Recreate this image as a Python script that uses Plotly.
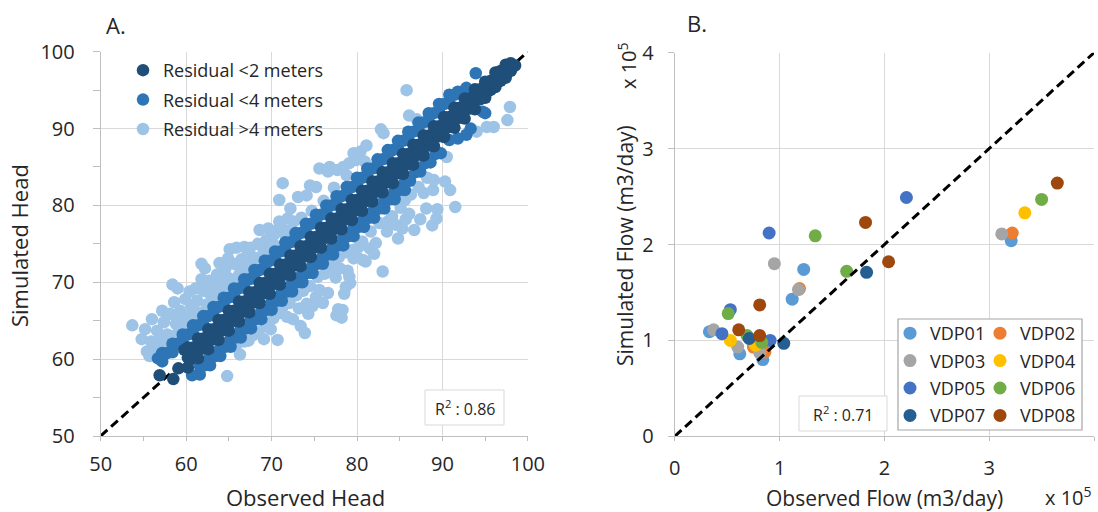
import plotly.graph_objects as go

W, H = 1098, 512
FONT = "Open Sans"
TXT = "#262626"
GRID = "#d9d9d9"
AXIS = "#bfbfbf"

# ---------------- Panel A: observed vs simulated head (m) ----------------
head_range = [50, 100]
head_ticks = [50, 60, 70, 80, 90, 100]
head_r2 = 0.86
head_classes = ["Residual <2 meters", "Residual <4 meters", "Residual >4 meters"]
head_colors = ["#1f4e79", "#2e75b6", "#9dc3e6"]

# (observed, simulated) pairs, grouped by absolute residual
resid_lt2 = [
    (56.9, 57.9), (58.5, 57.4), (59.1, 58.8), (59.8, 61.2), (60.4, 59.9),
    (60.2, 58.9), (60.2, 60.2), (60.2, 61.5), (60.8, 60.2), (60.8, 61.5),
    (61.4, 60.1), (61.4, 61.4), (61.4, 62.7), (62.0, 61.4), (62.0, 62.7),
    (62.6, 61.3), (62.6, 62.6), (62.6, 63.9), (63.2, 62.6), (63.2, 63.9),
    (63.8, 62.5), (63.8, 63.8), (63.8, 65.1), (64.4, 63.8), (64.4, 65.1),
    (65.0, 63.7), (65.0, 65.0), (65.0, 66.3), (65.6, 65.0), (65.6, 66.3),
    (66.2, 64.9), (66.2, 66.2), (66.2, 67.5), (66.8, 66.2), (66.8, 67.5),
    (67.4, 66.1), (67.4, 67.4), (67.4, 68.7), (68.0, 67.4), (68.0, 68.7),
    (68.6, 67.3), (68.6, 68.6), (68.6, 69.9), (69.2, 68.6), (69.2, 69.9),
    (69.8, 68.5), (69.8, 69.8), (69.8, 71.1), (70.4, 69.8), (70.4, 71.1),
    (71.0, 69.7), (71.0, 71.0), (71.0, 72.3), (71.6, 71.0), (71.6, 72.3),
    (72.2, 70.9), (72.2, 72.2), (72.2, 73.5), (72.8, 72.2), (72.8, 73.5),
    (73.4, 72.1), (73.4, 73.4), (73.4, 74.7), (74.0, 73.4), (74.0, 74.7),
    (74.6, 73.3), (74.6, 74.6), (74.6, 75.9), (75.2, 74.6), (75.2, 75.9),
    (75.8, 74.5), (75.8, 75.8), (75.8, 77.1), (76.4, 75.8), (76.4, 77.1),
    (77.0, 75.7), (77.0, 77.0), (77.0, 78.3), (77.6, 77.0), (77.6, 78.3),
    (78.2, 76.9), (78.2, 78.2), (78.2, 79.5), (78.8, 78.2), (78.8, 79.5),
    (79.4, 78.1), (79.4, 79.4), (79.4, 80.7), (80.0, 79.4), (80.0, 80.7),
    (80.6, 79.3), (80.6, 80.6), (80.6, 81.9), (81.2, 80.6), (81.2, 81.9),
    (81.8, 80.5), (81.8, 81.8), (81.8, 83.1), (82.4, 81.8), (82.4, 83.1),
    (83.0, 81.7), (83.0, 83.0), (83.0, 84.3), (83.6, 83.0), (83.6, 84.3),
    (84.2, 82.9), (84.2, 84.2), (84.2, 85.5), (84.8, 84.2), (84.8, 85.5),
    (85.4, 84.1), (85.4, 85.4), (85.4, 86.7), (86.0, 85.4), (86.0, 86.7),
    (86.6, 85.3), (86.6, 86.6), (86.6, 87.9), (87.2, 86.6), (87.2, 87.9),
    (87.8, 86.5), (87.8, 87.8), (87.8, 89.1), (88.4, 87.8), (88.4, 89.1),
    (89.0, 87.7), (89.0, 89.0), (89.0, 90.3), (89.6, 89.0), (89.6, 90.3),
    (90.2, 88.9), (90.2, 90.2), (90.2, 91.5), (90.8, 90.2), (90.8, 91.5),
    (91.4, 90.1), (91.4, 91.4), (91.4, 92.7), (92.0, 91.4), (92.0, 92.7),
    (92.6, 91.3), (92.6, 92.6), (92.6, 93.9), (93.2, 92.6), (93.2, 93.9),
    (93.8, 92.5), (93.8, 93.8), (93.8, 95.1), (94.4, 93.8), (94.4, 95.1),
    (95.0, 94.0), (95.0, 95.0), (95.0, 96.1), (95.6, 95.0), (95.6, 96.2),
    (96.2, 95.4), (96.2, 96.2), (96.2, 97.3), (96.8, 96.2), (96.8, 97.5),
    (97.4, 96.6), (97.4, 97.4), (97.4, 98.3), (98.0, 97.5), (98.0, 98.5),
    (98.5, 98.2),
]

resid_lt4 = [
    # simulated above observed
    (56.7, 60.1), (57.2, 59.7), (57.2, 60.8), (57.8, 60.8), (58.4, 60.9),
    (58.4, 62.0), (59.0, 62.0), (59.6, 62.1), (59.6, 63.2), (60.2, 63.2),
    (60.8, 63.3), (60.8, 64.4), (61.4, 64.4), (62.0, 64.5), (62.0, 65.6),
    (62.6, 65.6), (63.2, 65.7), (63.2, 66.8), (63.8, 66.8), (64.4, 66.9),
    (64.4, 68.0), (65.0, 68.0), (65.6, 68.1), (65.6, 69.2), (66.2, 69.2),
    (66.8, 69.3), (66.8, 70.4), (67.4, 70.4), (68.0, 70.5), (68.0, 71.6),
    (68.6, 71.6), (69.2, 71.7), (69.2, 72.8), (69.8, 72.8), (70.4, 72.9),
    (70.4, 74.0), (71.0, 74.0), (71.6, 74.1), (71.6, 75.2), (72.2, 75.2),
    (72.8, 75.3), (72.8, 76.4), (73.4, 76.4), (74.0, 76.5), (74.0, 77.6),
    (74.6, 77.6), (75.2, 77.7), (75.2, 78.8), (75.8, 78.8), (76.4, 78.9),
    (76.4, 80.0), (77.0, 80.0), (77.6, 80.1), (77.6, 81.2), (78.2, 81.2),
    (78.8, 81.3), (78.8, 82.4), (79.4, 82.4), (80.0, 82.5), (80.0, 83.6),
    (80.6, 83.6), (81.2, 83.7), (81.2, 84.8), (81.8, 84.8), (82.4, 84.9),
    (82.4, 86.0), (83.0, 86.0), (83.6, 86.1), (83.6, 87.2), (84.2, 87.2),
    (84.8, 87.3), (84.8, 88.4), (85.4, 88.4), (86.0, 88.5), (86.0, 89.6),
    (86.6, 89.6), (87.2, 89.7), (87.2, 90.8), (87.8, 90.8), (88.4, 90.9),
    (88.4, 92.0), (89.0, 92.0), (89.6, 92.1), (89.6, 93.2), (90.2, 93.2),
    (90.8, 93.3), (90.8, 94.4), (91.4, 94.4), (91.8, 94.8), (92.8, 95.3),
    (93.9, 97.2),
    # simulated below observed
    (60.7, 57.9), (61.6, 59.1), (61.6, 58.0), (62.2, 59.2), (62.8, 60.3),
    (62.8, 59.2), (63.4, 60.4), (64.0, 61.5), (64.0, 60.4), (64.6, 61.6),
    (65.2, 62.7), (65.2, 61.6), (65.8, 62.8), (66.4, 63.9), (66.4, 62.8),
    (67.0, 64.0), (67.6, 65.1), (67.6, 64.0), (68.2, 65.2), (68.8, 66.3),
    (68.8, 65.2), (69.4, 66.4), (70.0, 67.5), (70.0, 66.4), (70.6, 67.6),
    (71.2, 68.7), (71.2, 67.6), (71.8, 68.8), (72.4, 69.9), (72.4, 68.8),
    (73.0, 70.0), (73.6, 71.1), (73.6, 70.0), (74.2, 71.2), (74.8, 72.3),
    (74.8, 71.2), (75.4, 72.4), (76.0, 73.5), (76.0, 72.4), (76.6, 73.6),
    (77.2, 74.7), (77.2, 73.6), (77.8, 74.8), (78.4, 75.9), (78.4, 74.8),
    (79.0, 76.0), (79.6, 77.1), (79.6, 76.0), (80.2, 77.2), (80.8, 78.3),
    (80.8, 77.2), (81.4, 78.4), (82.0, 79.5), (82.0, 78.4), (82.6, 79.6),
    (83.2, 80.7), (83.2, 79.6), (83.8, 80.8), (84.4, 81.9), (84.4, 80.8),
    (85.0, 82.0), (85.6, 83.1), (85.6, 82.0), (86.2, 83.2), (86.8, 84.3),
    (87.4, 84.4), (88.0, 85.5), (88.6, 85.6), (89.2, 86.7), (89.8, 86.8),
    (90.8, 88.5), (91.8, 88.7), (92.8, 89.2), (93.3, 90.0), (94.7, 92.2),
    (95.0, 92.0),
]

resid_gt4 = [
    # simulated above observed
    (53.7, 64.4), (54.8, 62.6), (55.4, 61.0), (55.2, 63.9), (55.9, 62.3),
    (55.7, 60.4), (56.3, 60.9), (56.0, 65.2), (56.6, 63.7), (56.9, 61.6),
    (57.0, 62.8), (57.2, 66.3), (57.4, 64.8), (57.6, 61.9), (57.8, 63.2),
    (58.1, 65.9), (58.2, 62.5), (58.4, 69.7), (58.6, 67.4), (58.8, 64.6),
    (58.9, 63.2), (59.0, 69.2), (59.2, 65.1), (59.3, 66.3), (59.6, 63.9),
    (59.9, 67.8), (60.0, 64.3), (60.1, 65.5), (60.4, 68.8), (60.6, 66.9),
    (60.9, 66.4), (61.0, 65.2), (61.1, 69.2), (61.3, 67.6), (61.6, 66.0),
    (61.8, 72.4), (61.8, 70.4), (62.0, 68.9), (62.2, 71.8), (62.4, 67.1),
    (62.6, 68.7), (62.7, 70.2), (63.0, 68.2), (63.2, 67.6), (63.3, 69.6),
    (63.6, 71.0), (63.8, 70.0), (63.9, 72.5), (64.0, 68.6), (64.2, 68.9),
    (64.4, 70.3), (64.6, 71.8), (64.9, 73.1), (64.9, 70.6), (65.1, 74.3),
    (65.3, 69.8), (65.6, 72.4), (65.6, 70.2), (65.9, 74.5), (66.0, 72.3),
    (66.2, 71.0), (66.5, 73.0), (66.7, 71.3), (66.8, 74.6), (67.1, 73.4),
    (67.2, 72.0), (67.5, 74.5), (67.8, 72.6), (68.0, 73.2), (68.4, 75.0),
    (68.6, 76.8), (68.9, 74.6), (69.0, 73.6), (69.4, 75.5), (69.6, 77.0),
    (69.9, 74.5), (70.2, 75.0), (70.3, 76.2), (70.7, 76.8), (70.9, 77.9),
    (70.9, 80.7), (71.2, 77.0), (71.3, 82.9), (71.6, 76.2), (71.9, 78.3),
    (72.0, 76.7), (72.2, 79.6), (72.6, 77.9), (73.1, 81.1), (73.5, 78.4),
    (74.1, 81.3), (74.5, 82.6), (74.7, 79.3), (75.2, 82.4), (75.6, 84.8),
    (76.1, 80.6), (76.6, 84.4), (76.8, 85.0), (77.3, 82.3), (77.7, 84.6),
    (78.4, 85.0), (78.8, 83.9), (79.1, 85.5), (79.6, 86.8), (79.9, 85.9),
    (80.4, 87.0), (80.9, 85.7), (81.1, 87.8), (82.8, 89.9), (83.1, 89.4),
    (85.8, 95.0), (86.1, 91.7), (87.0, 91.2),
    # simulated below observed
    (64.8, 57.8), (65.8, 61.6), (66.3, 60.6), (66.8, 62.3), (67.3, 62.4),
    (67.8, 63.1), (68.5, 63.6), (69.1, 62.6), (69.3, 64.4), (69.9, 63.9),
    (70.2, 65.3), (70.6, 66.3), (70.7, 62.5), (71.0, 66.0), (71.3, 66.8),
    (71.8, 65.5), (72.1, 67.3), (72.5, 65.2), (72.9, 68.3), (73.2, 66.6),
    (73.4, 64.3), (73.7, 68.9), (73.9, 63.4), (74.1, 67.2), (74.3, 65.9),
    (74.5, 69.5), (74.8, 66.9), (75.2, 68.1), (75.4, 70.7), (75.6, 69.0),
    (76.0, 67.3), (76.2, 71.1), (76.6, 68.6), (76.9, 71.7), (77.1, 72.6),
    (77.5, 70.6), (77.6, 65.7), (77.8, 66.5), (77.9, 73.3), (78.0, 71.8),
    (78.2, 65.4), (78.3, 66.4), (78.5, 68.5), (78.7, 69.4), (78.7, 73.9),
    (78.9, 71.5), (79.1, 70.7), (79.2, 69.9), (79.5, 74.2), (79.6, 73.1),
    (80.0, 73.3), (80.2, 74.6), (80.6, 75.3), (80.7, 72.9), (81.0, 72.7),
    (81.5, 74.4), (81.6, 76.6), (82.0, 73.7), (82.2, 75.1), (82.6, 77.7),
    (83.0, 71.4), (83.5, 76.6), (83.6, 77.9), (84.1, 78.6), (84.5, 77.5),
    (84.8, 75.7), (85.1, 79.7), (85.3, 77.0), (85.6, 80.7), (85.7, 78.2),
    (86.1, 78.9), (86.3, 81.4), (86.7, 76.8), (87.2, 82.4), (87.4, 78.2),
    (87.8, 81.6), (88.1, 79.6), (88.2, 83.6), (88.8, 77.4), (88.9, 82.0),
    (89.0, 83.3), (89.3, 78.3), (89.4, 79.5), (90.3, 83.1), (90.5, 86.3),
    (90.9, 82.0), (91.5, 79.8), (94.0, 89.6), (95.2, 90.2), (96.0, 90.2),
    (97.6, 91.1), (97.9, 92.8),
]

# ---------------- Panel B: observed vs simulated flow (x 10^5 m3/day) ----------------
flow_range = [0, 4]
flow_ticks = [0, 1, 2, 3, 4]
flow_r2 = 0.71
wells = ["VDP01", "VDP02", "VDP03", "VDP04", "VDP05", "VDP06", "VDP07", "VDP08"]
well_colors = ["#5b9bd5", "#ed7d31", "#a5a5a5", "#ffc000",
               "#4472c4", "#70ad47", "#255e91", "#9e480e"]
vdp01 = [(0.33, 1.09), (0.62, 0.86), (0.84, 0.80), (1.12, 1.43), (1.23, 1.74), (3.21, 2.04)]
vdp02 = [(0.75, 0.93), (0.86, 0.88), (1.19, 1.54), (3.22, 2.12)]
vdp03 = [(0.37, 1.11), (0.60, 0.93), (0.81, 0.87), (0.95, 1.80), (1.18, 1.53), (3.12, 2.11)]
vdp04 = [(0.53, 1.00), (0.77, 0.95), (3.34, 2.33)]
vdp05 = [(0.45, 1.07), (0.53, 1.32), (0.91, 1.00), (0.90, 2.12), (2.21, 2.49)]
vdp06 = [(0.51, 1.28), (0.69, 1.05), (0.83, 0.98), (1.34, 2.09), (1.64, 1.72), (3.50, 2.47)]
vdp07 = [(0.71, 1.02), (1.04, 0.97), (1.83, 1.71)]
vdp08 = [(0.61, 1.11), (0.81, 1.05), (0.81, 1.37), (1.82, 2.23), (2.04, 1.82), (3.65, 2.64)]
well_data = [vdp01, vdp02, vdp03, vdp04, vdp05, vdp06, vdp07, vdp08]


def px(x):
    """pixel column -> paper x"""
    return x / W


def py(y):
    """pixel row (from top) -> paper y"""
    return 1 - y / H


fig = go.Figure()

# 1:1 reference line for heads (under the points)
fig.add_trace(go.Scatter(
    x=head_range, y=head_range, mode="lines", xaxis="x", yaxis="y",
    line=dict(color="black", width=3, dash="9px,5px"), showlegend=False,
    hoverinfo="skip"))

# head points: widest residuals first so the tight band sits on top
for rank, pts, name, color in sorted(
        zip([1, 2, 3], [resid_lt2, resid_lt4, resid_gt4], head_classes, head_colors),
        key=lambda t: -t[0]):
    fig.add_trace(go.Scatter(
        x=[p[0] for p in pts], y=[p[1] for p in pts], mode="markers",
        xaxis="x", yaxis="y", name=name, legend="legend3", legendrank=rank,
        legendgroup=name,
        marker=dict(size=12.5, color=color, line=dict(width=0))))

# flow points
for i, (name, color, pts) in enumerate(zip(wells, well_colors, well_data)):
    fig.add_trace(go.Scatter(
        x=[p[0] for p in pts], y=[p[1] for p in pts], mode="markers",
        xaxis="x2", yaxis="y2", name=name, legendgroup=name,
        legend="legend" if i % 2 == 0 else "legend2",
        marker=dict(size=13, color=color, line=dict(width=0))))

# 1:1 reference line for flows
fig.add_trace(go.Scatter(
    x=flow_range, y=flow_range, mode="lines", xaxis="x2", yaxis="y2",
    line=dict(color="black", width=3, dash="9px,5px"), showlegend=False,
    hoverinfo="skip"))

tickfont = dict(family=FONT, size=20, color=TXT)
common = dict(showgrid=True, gridcolor=GRID, gridwidth=1, showline=True,
              linecolor=AXIS, linewidth=1, zeroline=False, ticks="outside",
              tickcolor=AXIS, tickfont=tickfont, automargin=False, fixedrange=True)

legend_style = dict(xanchor="left", yanchor="top", bgcolor="rgba(0,0,0,0)",
                    borderwidth=0, traceorder="grouped",
                    font=dict(family=FONT, size=18, color=TXT),
                    itemclick=False, itemdoubleclick=False)

layout = dict(
    width=W, height=H, template="none",
    margin=dict(l=0, r=0, t=0, b=0, pad=0),
    paper_bgcolor="white", plot_bgcolor="white",
    font=dict(family=FONT, color=TXT),
    xaxis=dict(domain=[px(100.7), px(527.9)], range=head_range, tickvals=head_ticks,
               anchor="y", ticklen=4, ticklabelstandoff=6,
               minor=dict(dtick=5, tick0=50, ticks="outside", ticklen=4,
                          tickcolor=AXIS, showgrid=False), **common),
    yaxis=dict(domain=[py(436), py(51.7)], range=head_range, tickvals=head_ticks,
               anchor="x", ticklen=7, ticklabelstandoff=14,
               minor=dict(dtick=5, tick0=50, ticks="outside", ticklen=7,
                          tickcolor=AXIS, showgrid=False), **common),
    xaxis2=dict(domain=[px(674.8), px(1094)], range=flow_range, tickvals=flow_ticks,
                anchor="y2", ticklen=4, ticklabelstandoff=10, **common),
    yaxis2=dict(domain=[py(436.3), py(52.7)], range=flow_range, tickvals=flow_ticks,
                anchor="x2", ticklen=6, ticklabelstandoff=10, **common),
    legend=dict(x=px(890), y=py(315), tracegroupgap=1, **legend_style),
    legend2=dict(x=px(980), y=py(315), tracegroupgap=1, **legend_style),
    legend3=dict(x=px(123), y=py(52), tracegroupgap=3, **legend_style),
    showlegend=True,
)
fig.update_layout(**layout)

# boxes: R² labels and the flow legend frame (white fill hides gridlines)
box_style = dict(type="rect", xref="paper", yref="paper", layer="above",
                 fillcolor="white")
fig.add_shape(x0=px(425), x1=px(504), y0=py(425), y1=py(390),
              line=dict(color=GRID, width=1), **box_style)
fig.add_shape(x0=px(799), x1=px(887), y0=py(431), y1=py(396),
              line=dict(color=GRID, width=1), **box_style)
fig.add_shape(x0=px(898), x1=px(1082), y0=py(430), y1=py(319),
              line=dict(color="#a6a6a6", width=1.2), **box_style)


def label(text, x, y, size, angle=0, anchor="center"):
    fig.add_annotation(text=text, x=px(x), y=py(y), xref="paper", yref="paper",
                       showarrow=False, textangle=angle, xanchor=anchor,
                       yanchor="middle", font=dict(family=FONT, size=size, color=TXT))


label(f"R<sup>2</sup> : {head_r2:.2f}", 464.5, 408, 16)
label(f"R<sup>2</sup> : {flow_r2:.2f}", 843, 414, 16)
label("A.", 116, 25, 22)
label("B.", 697, 23, 22)
label("Observed Head", 305, 497, 22)
label("Simulated Head", 19, 246, 22, angle=-90)
label("Observed Flow (m3/day)", 884, 498, 21)
label("Simulated Flow (m3/day)", 625, 246, 21, angle=-90)
label("x 10<sup>5</sup>", 1068, 496, 20)
label("x 10<sup>5</sup>", 627, 66, 20, angle=-90)

fig.write_html("out.html", config=dict(displayModeBar=False))
